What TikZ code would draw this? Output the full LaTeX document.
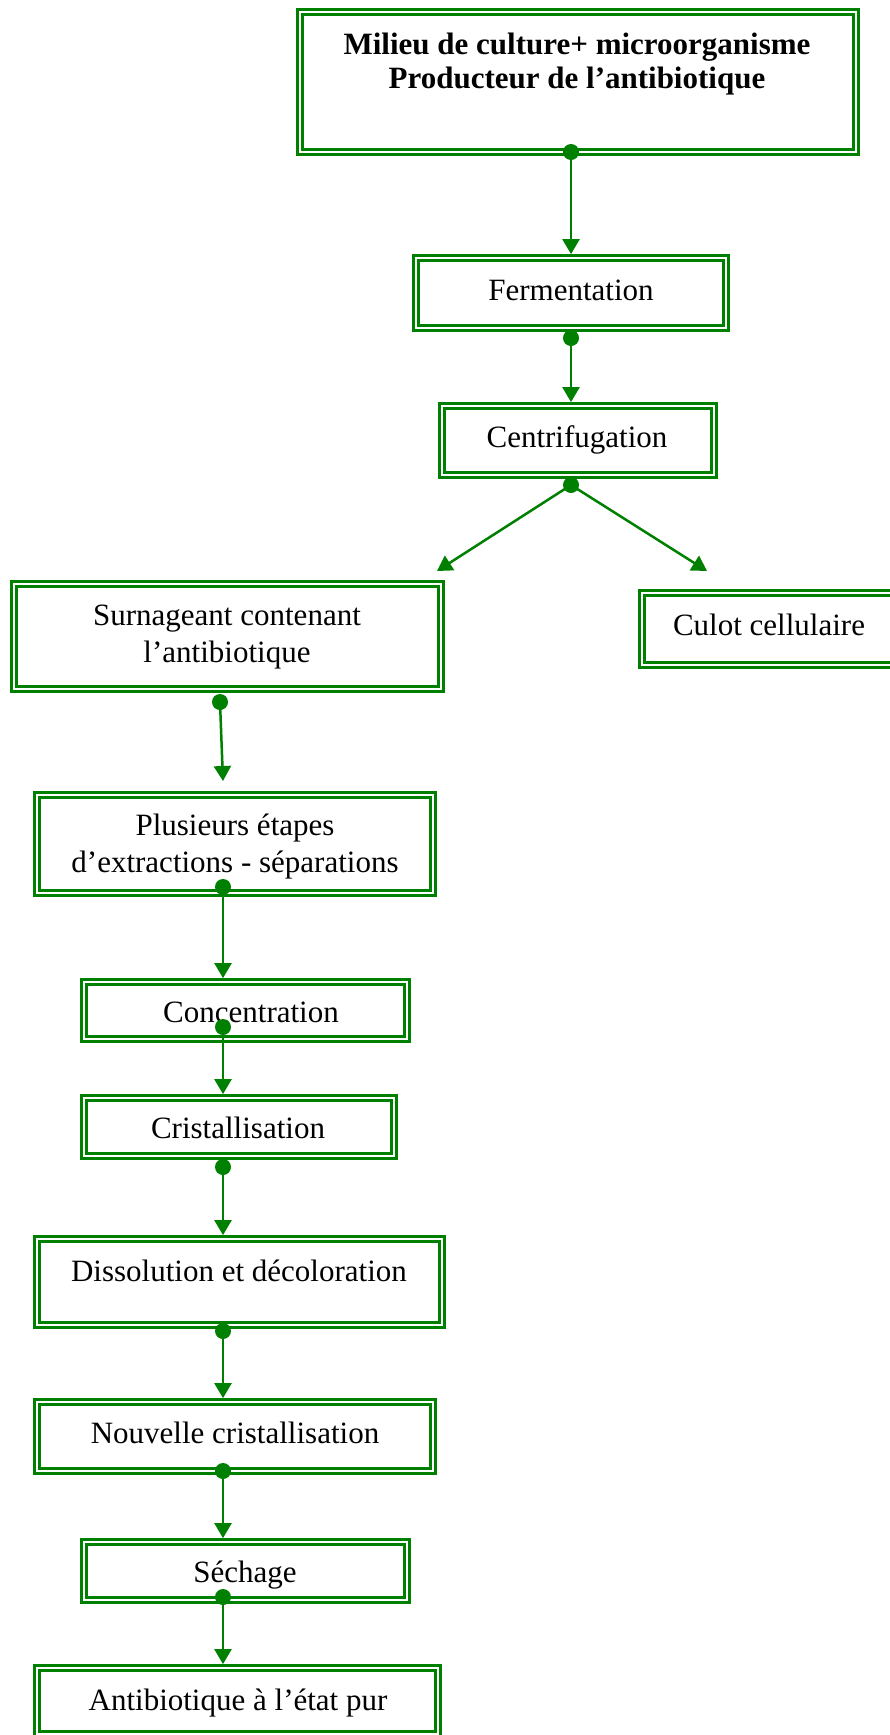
\documentclass[tikz,border=0pt]{standalone}
\usepackage{fontspec}
\setmainfont{Liberation Serif}
\usetikzlibrary{arrows.meta}
\definecolor{wgreen}{RGB}{0,128,0}
\tikzset{
  box/.style={draw=wgreen, double=white, double distance=2.2pt, line width=2.8pt,
              inner sep=0pt, outer sep=3.9pt},
  txt/.style={inner sep=0pt, anchor=base, font=\fontsize{31}{37}\selectfont},
  conn/.style={draw=wgreen, line width=2.5pt, -{Triangle[length=15pt,width=17pt]}},
  dotc/.style={fill=wgreen},
}
\begin{document}
\begin{tikzpicture}[x=1pt,y=-1pt]
\useasboundingbox (0,0) rectangle (890,1735);
\clip (0,0) rectangle (890,1735);
% boxes
\node[box, minimum width=556pt, minimum height=140pt] (top)   at (578,82) {};
\node[box, minimum width=310pt, minimum height=70pt]  (ferm)  at (571,293) {};
\node[box, minimum width=272pt, minimum height=69pt]  (cent)  at (578,440.5) {};
\node[box, minimum width=427pt, minimum height=105pt] (surn)  at (227.5,636.5) {};
\node[box, minimum width=314pt, minimum height=72pt]  (culot) at (799,629) {};
\node[box, minimum width=396pt, minimum height=98pt]  (plus)  at (235,844) {};
\node[box, minimum width=323pt, minimum height=57pt]  (conc)  at (245.5,1010.5) {};
\node[box, minimum width=310pt, minimum height=58pt]  (crist) at (239,1127) {};
\node[box, minimum width=405pt, minimum height=86pt]  (diss)  at (239.5,1282) {};
\node[box, minimum width=396pt, minimum height=69pt]  (nouv)  at (235,1436.5) {};
\node[box, minimum width=323pt, minimum height=58pt]  (sech)  at (245.5,1571) {};
\node[box, minimum width=401pt, minimum height=66pt]  (anti)  at (237.5,1701) {};
% texts
\node[txt, font=\fontsize{31}{34}\selectfont\bfseries] (topT) at (577,54)
  {\begin{tabular}[t]{@{}c@{}}Milieu de culture+ microorganisme\\Producteur de l’antibiotique\end{tabular}};
\node[txt] (fermT)  at (571,300)  {Fermentation};
\node[txt] (centT)  at (577,447)  {Centrifugation};
\node[txt] (surnT)  at (227,625)
  {\begin{tabular}[t]{@{}c@{}}Surnageant contenant\\l’antibiotique\end{tabular}};
\node[txt] (culotT) at (769,635)  {Culot cellulaire};
\node[txt] (plusT)  at (235,835)
  {\begin{tabular}[t]{@{}c@{}}Plusieurs étapes\\d’extractions - séparations\end{tabular}};
\node[txt] (concT)  at (251,1022) {Concentration};
\node[txt] (cristT) at (238,1138) {Cristallisation};
\node[txt] (dissT)  at (239,1281) {Dissolution et décoloration};
\node[txt] (nouvT)  at (235,1443) {Nouvelle cristallisation};
\node[txt] (sechT)  at (245,1582) {Séchage};
\node[txt] (antiT)  at (238,1710) {Antibiotique à l’état pur};
% connector start points and free ends
\coordinate (d0) at (571,152);
\coordinate (d1) at (571,338);
\coordinate (d2) at (571,485);
\coordinate (tL) at (437,571);
\coordinate (tR) at (707,571);
\coordinate (d3) at (220,702);
\coordinate (t3) at (223,781);
\coordinate (d4) at (223,887);
\coordinate (d5) at (223,1027);
\coordinate (d6) at (223,1167);
\coordinate (d7) at (223,1331);
\coordinate (d8) at (223,1471);
\coordinate (d9) at (223,1597);
% connectors
\draw[conn] (d0) -- (ferm.north -| d0);
\draw[conn] (d1) -- (cent.north -| d1);
\draw[conn] (d2) -- (tL);
\draw[conn] (d2) -- (tR);
\draw[conn] (d3) -- (t3);
\draw[conn] (d4) -- (conc.north -| d4);
\draw[conn] (d5) -- (crist.north -| d5);
\draw[conn] (d6) -- (diss.north -| d6);
\draw[conn] (d7) -- (nouv.north -| d7);
\draw[conn] (d8) -- (sech.north -| d8);
\draw[conn] (d9) -- (anti.north -| d9);
% dots
\foreach \d in {d0,d1,d2,d3,d4,d5,d6,d7,d8,d9}
  \fill[dotc] (\d) circle[radius=8pt];
\end{tikzpicture}
\end{document}
